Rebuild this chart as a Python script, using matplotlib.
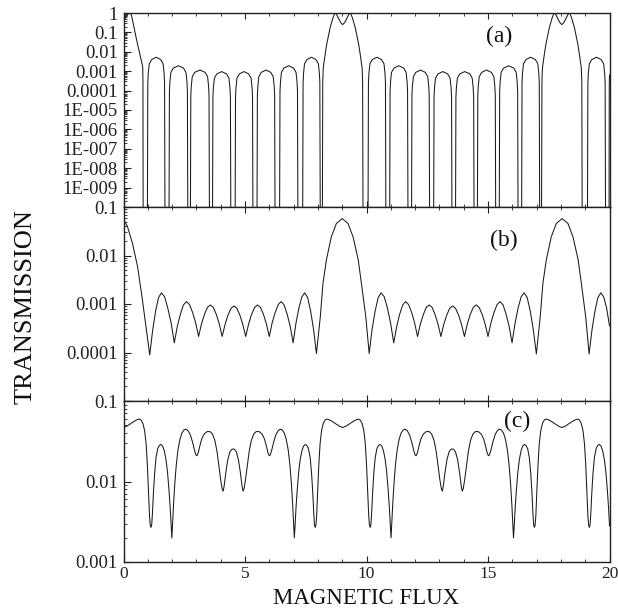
import numpy as np
import matplotlib
matplotlib.use("Agg")
import matplotlib.pyplot as plt
from matplotlib.ticker import FixedLocator, FixedFormatter, LogLocator, MultipleLocator, NullFormatter

plt.rcParams['font.family'] = ['Liberation Serif', 'DejaVu Serif']

# ---------------- data (x = magnetic flux, values given as log10 of transmission) -------------
# panel (a)
flux_a = [0.00, 0.10, 0.20, 0.29, 0.33, 0.40, 0.54, 0.79, 0.80, 0.81,
          0.98, 1.00, 1.02, 1.06, 1.16, 1.345, 1.53, 1.63, 1.67, 1.69, 1.71,
          1.87, 1.89, 1.91, 1.95, 2.05, 2.26, 2.47, 2.57, 2.61, 2.63, 2.65,
          2.75, 2.77, 2.79, 2.83, 2.93, 3.145, 3.36, 3.46, 3.50, 3.52, 3.54,
          3.66, 3.68, 3.70, 3.74, 3.84, 4.04, 4.24, 4.34, 4.38, 4.40, 4.42,
          4.59, 4.61, 4.63, 4.67, 4.77, 4.96, 5.15, 5.25, 5.29, 5.31, 5.33,
          5.49, 5.51, 5.53, 5.57, 5.67, 5.865, 6.06, 6.16, 6.20, 6.22, 6.24,
          6.42, 6.44, 6.46, 6.50, 6.60, 6.80, 7.00, 7.10, 7.14, 7.16, 7.18,
          7.37, 7.39, 7.41, 7.45, 7.55, 7.735, 7.92, 8.02, 8.06, 8.08, 8.10,
          8.18, 8.20, 8.22, 8.29, 8.36, 8.50, 8.62, 8.68, 8.72, 8.77, 8.84, 8.93, 9.02,
          9.11, 9.20, 9.27, 9.32, 9.36, 9.42, 9.54, 9.68, 9.75, 9.82, 9.84, 9.86,
          10.06, 10.08, 10.10, 10.14, 10.24, 10.43, 10.62, 10.72, 10.76, 10.78, 10.80,
          10.95, 10.97, 10.99, 11.03, 11.13, 11.33, 11.53, 11.63, 11.67, 11.69, 11.71,
          11.85, 11.87, 11.89, 11.93, 12.03, 12.225, 12.42, 12.52, 12.56, 12.58, 12.60,
          12.76, 12.78, 12.80, 12.84, 12.94, 13.14, 13.34, 13.44, 13.48, 13.50, 13.52,
          13.66, 13.68, 13.70, 13.74, 13.84, 14.045, 14.25, 14.35, 14.39, 14.41, 14.43,
          14.56, 14.58, 14.60, 14.64, 14.74, 14.94, 15.14, 15.24, 15.28, 15.30, 15.32,
          15.46, 15.48, 15.50, 15.54, 15.64, 15.85, 16.06, 16.16, 16.20, 16.22, 16.24,
          16.38, 16.40, 16.42, 16.46, 16.56, 16.755, 16.95, 17.05, 17.09, 17.11, 17.13,
          17.20, 17.22, 17.24, 17.31, 17.38, 17.52, 17.64, 17.70, 17.74, 17.79, 17.86, 17.95, 18.04,
          18.13, 18.22, 18.29, 18.34, 18.38, 18.44, 18.56, 18.70, 18.77, 18.84, 18.86, 18.88,
          19.09, 19.11, 19.13, 19.17, 19.27, 19.465, 19.66, 19.76, 19.80, 19.82, 19.84,
          19.98, 19.99, 20.00]
log_a = [-0.45, -0.20, -0.04, 0.00, -0.12, -0.55, -1.39, -2.77, -3.50, -12,
         -12, -3.58, -3.10, -2.62, -2.40, -2.28, -2.40, -2.62, -3.10, -3.58, -12,
         -12, -4.02, -3.54, -3.06, -2.84, -2.72, -2.84, -3.06, -3.54, -4.02, -12,
         -12, -4.24, -3.76, -3.28, -3.06, -2.94, -3.06, -3.28, -3.76, -4.24, -12,
         -12, -4.32, -3.84, -3.36, -3.14, -3.02, -3.14, -3.36, -3.84, -4.32, -12,
         -12, -4.32, -3.84, -3.36, -3.14, -3.02, -3.14, -3.36, -3.84, -4.32, -12,
         -12, -4.24, -3.76, -3.28, -3.06, -2.94, -3.06, -3.28, -3.76, -4.24, -12,
         -12, -4.02, -3.54, -3.06, -2.84, -2.72, -2.84, -3.06, -3.54, -4.02, -12,
         -12, -3.58, -3.10, -2.62, -2.40, -2.28, -2.40, -2.62, -3.10, -3.58, -12,
         -12, -3.50, -2.84, -2.20, -1.63, -0.77, -0.25, -0.06, 0.00, -0.08, -0.26, -0.48, -0.60,
         -0.48, -0.26, -0.08, 0.00, -0.06, -0.25, -0.77, -1.63, -2.20, -2.84, -3.50, -12,
         -12, -3.58, -3.10, -2.62, -2.40, -2.28, -2.40, -2.62, -3.10, -3.58, -12,
         -12, -4.02, -3.54, -3.06, -2.84, -2.72, -2.84, -3.06, -3.54, -4.02, -12,
         -12, -4.24, -3.76, -3.28, -3.06, -2.94, -3.06, -3.28, -3.76, -4.24, -12,
         -12, -4.32, -3.84, -3.36, -3.14, -3.02, -3.14, -3.36, -3.84, -4.32, -12,
         -12, -4.32, -3.84, -3.36, -3.14, -3.02, -3.14, -3.36, -3.84, -4.32, -12,
         -12, -4.24, -3.76, -3.28, -3.06, -2.94, -3.06, -3.28, -3.76, -4.24, -12,
         -12, -4.02, -3.54, -3.06, -2.84, -2.72, -2.84, -3.06, -3.54, -4.02, -12,
         -12, -3.58, -3.10, -2.62, -2.40, -2.28, -2.40, -2.62, -3.10, -3.58, -12,
         -12, -3.50, -2.84, -2.20, -1.63, -0.77, -0.25, -0.06, 0.00, -0.08, -0.26, -0.48, -0.60,
         -0.48, -0.26, -0.08, 0.00, -0.06, -0.25, -0.77, -1.63, -2.20, -2.84, -3.50, -12,
         -12, -3.58, -3.10, -2.62, -2.40, -2.28, -2.40, -2.62, -3.10, -3.58, -12,
         -12, -3.90, -3.20]

# panel (b)
flux_b = [0.00, 0.16, 0.37, 0.58, 0.78, 0.96,
          1.08, 1.20, 1.32, 1.44, 1.56, 1.69, 1.82, 1.96,
          2.09, 2.215, 2.34, 2.465, 2.59, 2.715, 2.84, 2.965,
          3.09, 3.21, 3.33, 3.455, 3.575, 3.695, 3.82, 3.94,
          4.06, 4.18, 4.30, 4.425, 4.545, 4.665, 4.79, 4.91,
          5.03, 5.15, 5.27, 5.395, 5.515, 5.635, 5.76, 5.88,
          6.00, 6.12, 6.245, 6.37, 6.49, 6.61, 6.735, 6.86,
          6.98, 7.10, 7.22, 7.34, 7.46, 7.58, 7.70, 7.82,
          7.94, 8.10, 8.21, 8.35, 8.55, 8.76, 9.00, 9.24, 9.45, 9.66, 9.79, 9.97,
          10.11, 10.23, 10.355, 10.48, 10.60, 10.73, 10.86, 10.99,
          11.12, 11.245, 11.365, 11.49, 11.61, 11.73, 11.855, 11.975,
          12.10, 12.22, 12.34, 12.46, 12.58, 12.70, 12.82, 12.94,
          13.06, 13.18, 13.30, 13.425, 13.545, 13.665, 13.79, 13.91,
          14.03, 14.15, 14.27, 14.395, 14.515, 14.635, 14.76, 14.88,
          15.00, 15.125, 15.25, 15.375, 15.50, 15.62, 15.745, 15.87,
          15.99, 16.115, 16.24, 16.365, 16.49, 16.615, 16.74, 16.865,
          16.99, 17.15, 17.26, 17.40, 17.60, 17.81, 18.05, 18.29, 18.50, 18.71, 18.84, 19.02,
          19.16, 19.28, 19.40, 19.52, 19.64, 19.76, 19.88, 20.00]
log_b = [-1.25, -1.40, -1.75, -2.23, -2.92, -3.60,
         -4.05, -3.54, -3.15, -2.87, -2.77, -2.85, -3.08, -3.39,
         -3.80, -3.46, -3.21, -3.02, -2.95, -3.01, -3.17, -3.38,
         -3.67, -3.41, -3.215, -3.07, -3.02, -3.07, -3.215, -3.41,
         -3.67, -3.42, -3.23, -3.09, -3.04, -3.09, -3.23, -3.42,
         -3.67, -3.41, -3.215, -3.07, -3.02, -3.07, -3.215, -3.41,
         -3.67, -3.38, -3.17, -3.01, -2.95, -3.02, -3.21, -3.46,
         -3.80, -3.39, -3.08, -2.85, -2.77, -2.87, -3.145, -3.52,
         -4.02, -3.26, -2.57, -2.09, -1.62, -1.34, -1.24, -1.34, -1.62, -2.09, -2.57, -3.26,
         -4.02, -3.52, -3.145, -2.87, -2.77, -2.85, -3.08, -3.39,
         -3.80, -3.46, -3.21, -3.02, -2.95, -3.01, -3.17, -3.38,
         -3.67, -3.41, -3.215, -3.07, -3.02, -3.07, -3.215, -3.41,
         -3.67, -3.42, -3.23, -3.09, -3.04, -3.09, -3.23, -3.42,
         -3.67, -3.41, -3.215, -3.07, -3.02, -3.07, -3.215, -3.41,
         -3.67, -3.38, -3.17, -3.01, -2.95, -3.02, -3.21, -3.46,
         -3.80, -3.39, -3.08, -2.85, -2.77, -2.87, -3.15, -3.53,
         -4.03, -3.26, -2.57, -2.09, -1.62, -1.34, -1.24, -1.34, -1.62, -2.09, -2.57, -3.26,
         -4.03, -3.53, -3.15, -2.87, -2.77, -2.85, -3.08, -3.45]

# panel (c)
flux_c = [0.00, 0.15, 0.30, 0.45, 0.58, 0.65, 0.72, 0.80, 0.87, 0.93, 0.98, 1.03, 1.07, 1.10, 1.13,
          1.16, 1.19, 1.23, 1.28, 1.34, 1.41, 1.48, 1.54, 1.61, 1.68, 1.75, 1.81, 1.87, 1.92, 1.96,
          1.99, 2.02, 2.06, 2.11, 2.17, 2.24, 2.32, 2.40, 2.49, 2.57, 2.66, 2.75, 2.84, 2.92, 2.98,
          3.02, 3.07, 3.14, 3.22, 3.32, 3.44, 3.56, 3.66, 3.76, 3.85, 3.93, 4.00, 4.06, 4.10, 4.14,
          4.21, 4.29, 4.38, 4.46, 4.51,
          4.56, 4.64, 4.73, 4.81, 4.88, 4.92, 4.96, 5.02, 5.09, 5.17, 5.26, 5.36, 5.46, 5.58, 5.70,
          5.80, 5.88, 5.95, 6.00, 6.04, 6.10, 6.18, 6.27, 6.36, 6.45, 6.53, 6.62, 6.70, 6.78, 6.85,
          6.91, 6.96, 7.00, 7.03, 7.06, 7.10, 7.15, 7.21, 7.27, 7.34, 7.41, 7.48, 7.54, 7.61, 7.68,
          7.74, 7.79, 7.83, 7.86, 7.89, 7.92, 7.95, 7.99, 8.04, 8.09, 8.15, 8.22, 8.30, 8.37, 8.44,
          8.57, 8.72, 8.87, 9.02,
          9.17, 9.32, 9.47, 9.60, 9.67, 9.74, 9.82, 9.89, 9.95, 10.00, 10.05, 10.09, 10.12, 10.15,
          10.18, 10.21, 10.25, 10.30, 10.36, 10.43, 10.50, 10.56, 10.63, 10.70, 10.77, 10.83, 10.89,
          10.94, 10.98, 11.01, 11.04, 11.08, 11.13, 11.19, 11.26, 11.34, 11.42, 11.51, 11.59, 11.68,
          11.77, 11.86, 11.94, 12.00, 12.04, 12.09, 12.16, 12.24, 12.34, 12.46, 12.58, 12.68, 12.78,
          12.87, 12.95, 13.02, 13.08, 13.12, 13.16, 13.23, 13.31, 13.40, 13.48, 13.53,
          13.58, 13.66, 13.75, 13.83, 13.90, 13.94, 13.98, 14.04, 14.11, 14.19, 14.28, 14.38, 14.48,
          14.60, 14.72, 14.82, 14.90, 14.97, 15.02, 15.06, 15.12, 15.20, 15.29, 15.38, 15.47, 15.55,
          15.64, 15.72, 15.80, 15.87, 15.93, 15.98, 16.02, 16.05, 16.08, 16.12, 16.17, 16.23, 16.29,
          16.36, 16.43, 16.50, 16.56, 16.63, 16.70, 16.76, 16.81, 16.85, 16.88, 16.91, 16.94, 16.97,
          17.01, 17.06, 17.11, 17.17, 17.24, 17.32, 17.39, 17.46, 17.59, 17.74, 17.89, 18.04,
          18.19, 18.34, 18.49, 18.62, 18.69, 18.76, 18.84, 18.91, 18.97, 19.02, 19.07, 19.11, 19.14,
          19.17, 19.20, 19.23, 19.27, 19.32, 19.38, 19.45, 19.52, 19.58, 19.65, 19.72, 19.79, 19.85,
          19.91, 19.96, 20.00]
log_c = [-1.33, -1.31, -1.28, -1.25, -1.23, -1.225, -1.235, -1.28, -1.37, -1.53, -1.78, -2.12, -2.42, -2.54, -2.57,
         -2.54, -2.40, -2.15, -1.90, -1.70, -1.59, -1.55, -1.54, -1.56, -1.62, -1.73, -1.88, -2.10, -2.32, -2.55,
         -2.70, -2.52, -2.28, -2.03, -1.80, -1.61, -1.48, -1.40, -1.36, -1.35, -1.37, -1.42, -1.51, -1.61, -1.67,
         -1.68, -1.65, -1.56, -1.47, -1.41, -1.38, -1.38, -1.41, -1.49, -1.63, -1.82, -1.98, -2.09, -2.12, -2.06,
         -1.89, -1.73, -1.63, -1.60, -1.595,
         -1.60, -1.63, -1.73, -1.89, -2.06, -2.12, -2.09, -1.98, -1.82, -1.63, -1.49, -1.41, -1.38, -1.38, -1.41,
         -1.47, -1.56, -1.65, -1.68, -1.67, -1.61, -1.51, -1.42, -1.37, -1.35, -1.36, -1.40, -1.48, -1.61, -1.80,
         -2.03, -2.28, -2.52, -2.70, -2.55, -2.32, -2.10, -1.88, -1.73, -1.62, -1.56, -1.54, -1.55, -1.59, -1.70,
         -1.90, -2.15, -2.40, -2.54, -2.57, -2.54, -2.42, -2.12, -1.78, -1.53, -1.37, -1.28, -1.235, -1.225, -1.23,
         -1.25, -1.28, -1.31, -1.33,
         -1.31, -1.28, -1.25, -1.23, -1.225, -1.235, -1.28, -1.37, -1.53, -1.78, -2.12, -2.42, -2.54, -2.57,
         -2.54, -2.40, -2.15, -1.90, -1.70, -1.59, -1.55, -1.54, -1.56, -1.62, -1.73, -1.88, -2.10,
         -2.32, -2.55, -2.70, -2.52, -2.28, -2.03, -1.80, -1.61, -1.48, -1.40, -1.36, -1.35, -1.37,
         -1.42, -1.51, -1.61, -1.67, -1.68, -1.65, -1.56, -1.47, -1.41, -1.38, -1.38, -1.41, -1.49,
         -1.63, -1.82, -1.98, -2.09, -2.12, -2.06, -1.89, -1.73, -1.63, -1.60, -1.595,
         -1.60, -1.63, -1.73, -1.89, -2.06, -2.12, -2.09, -1.98, -1.82, -1.63, -1.49, -1.41, -1.38,
         -1.38, -1.41, -1.47, -1.56, -1.65, -1.68, -1.67, -1.61, -1.51, -1.42, -1.37, -1.35, -1.36,
         -1.40, -1.48, -1.61, -1.80, -2.03, -2.28, -2.52, -2.70, -2.55, -2.32, -2.10, -1.88, -1.73,
         -1.62, -1.56, -1.54, -1.55, -1.59, -1.70, -1.90, -2.15, -2.40, -2.54, -2.57, -2.54, -2.42,
         -2.12, -1.78, -1.53, -1.37, -1.28, -1.235, -1.225, -1.23, -1.25, -1.28, -1.31, -1.33,
         -1.31, -1.28, -1.25, -1.23, -1.225, -1.235, -1.28, -1.37, -1.53, -1.78, -2.12, -2.42, -2.54,
         -2.57, -2.54, -2.40, -2.15, -1.90, -1.70, -1.59, -1.55, -1.54, -1.56, -1.62, -1.73, -1.88,
         -2.10, -2.32, -2.55]

ticks_a = [1, 1e-1, 1e-2, 1e-3, 1e-4, 1e-5, 1e-6, 1e-7, 1e-8, 1e-9, 1e-10]
labels_a = ['1', '0.1', '0.01', '0.001', '0.0001', '1E-005', '1E-006', '1E-007', '1E-008', '1E-009', '']
ticks_b = [1e-1, 1e-2, 1e-3, 1e-4, 1e-5]
labels_b = ['0.1', '0.01', '0.001', '0.0001', '']
ticks_c = [1e-1, 1e-2, 1e-3]
labels_c = ['0.1', '0.01', '0.001']
x_ticks = [0, 5, 10, 15, 20]
x_labels = ['0', '5', '10', '15', '20']
panel_names = ['(a)', '(b)', '(c)']

# ---------------- figure ----------------
W, H = 618, 612
fig = plt.figure(figsize=(W / 100, H / 100), dpi=100)

left = 123.5 / W
width = (609.5 - 123.5) / W
rects = [(left, 1 - 207 / H, width, 194 / H),
         (left, 1 - 401 / H, width, 194 / H),
         (left, 1 - 562 / H, width, 161 / H)]
ylims = [(1e-10, 1.0), (1e-5, 1e-1), (1e-3, 1e-1)]
data = [(flux_a, log_a), (flux_b, log_b), (flux_c, log_c)]
yt = [(ticks_a, labels_a), (ticks_b, labels_b), (ticks_c, labels_c)]
label_pos = [(0.773, 0.88), (0.783, 0.825), (0.81, 0.87)]

ytick_fs = 13.5
xtick_fs = 12.5
line_col = '#1a1a1a'
axes = []
for i, rect in enumerate(rects):
    ax = fig.add_axes(rect)
    fx, lg = data[i]
    ax.plot(fx, 10.0 ** np.array(lg), color=line_col, lw=0.75, solid_joinstyle='round')
    ax.set_yscale('log')
    ax.set_xlim(0, 20)
    ax.set_ylim(*ylims[i])
    tv, tl = yt[i]
    ax.yaxis.set_major_locator(FixedLocator(tv))
    ax.yaxis.set_major_formatter(FixedFormatter(tl))
    ax.yaxis.set_minor_locator(LogLocator(base=10, subs=np.arange(2, 10), numticks=20))
    ax.yaxis.set_minor_formatter(NullFormatter())
    ax.xaxis.set_major_locator(FixedLocator(x_ticks))
    ax.xaxis.set_minor_locator(MultipleLocator(1))
    if i == 2:
        ax.xaxis.set_major_formatter(FixedFormatter(x_labels))
    else:
        ax.xaxis.set_major_formatter(NullFormatter())
    ax.tick_params(axis='both', which='both', direction='in', top=True, bottom=True,
                   left=True, right=False, colors='#222222')
    ax.tick_params(axis='y', which='major', length=5, width=0.8, labelsize=ytick_fs, pad=4)
    ax.tick_params(axis='y', which='minor', length=2.5, width=0.6)
    ax.tick_params(axis='x', which='major', length=4, width=0.8, labelsize=xtick_fs, pad=3)
    ax.tick_params(axis='x', which='minor', length=2.5, width=0.6)
    for sp in ax.spines.values():
        sp.set_linewidth(1.0)
        sp.set_color('#222222')
    ax.text(label_pos[i][0], label_pos[i][1], panel_names[i], transform=ax.transAxes,
            ha='center', va='center', fontsize=17, color='#111111')
    axes.append(ax)

fig.text(26 / W, 1 - 306 / H, 'TRANSMISSION', rotation=90, ha='center', va='center',
         fontsize=19, color='#111111')
fig.text(366 / W, 1 - 598 / H, 'MAGNETIC FLUX', ha='center', va='center',
         fontsize=16.5, color='#111111')

fig.savefig('out.png', dpi=100, facecolor='white')
